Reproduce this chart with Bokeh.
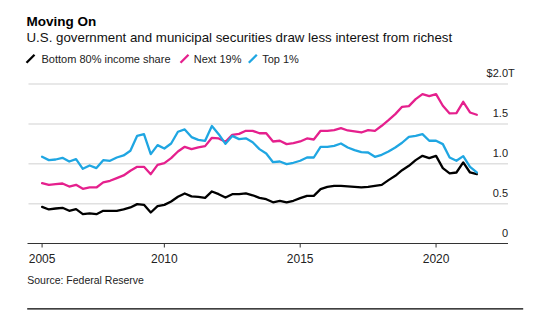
from bokeh.plotting import figure
from bokeh.models import Label, Arrow, Range1d
from bokeh.core.properties import value
from bokeh.embed import file_html
from bokeh.resources import INLINE

# ---------------- data ----------------
quarters = [f"{y}Q{q}" for y in range(2005, 2022) for q in range(1, 5)][2:-1]  # 2005Q3 .. 2021Q3

bottom_80 = [0.460, 0.427, 0.439, 0.448, 0.410, 0.431, 0.368, 0.377, 0.368, 0.410,
             0.410, 0.410, 0.427, 0.452, 0.494, 0.485, 0.389, 0.469, 0.485, 0.527,
             0.586, 0.628, 0.592, 0.586, 0.573, 0.653, 0.619, 0.577, 0.619, 0.619,
             0.628, 0.605, 0.573, 0.556, 0.517, 0.536, 0.515, 0.536, 0.569, 0.598,
             0.598, 0.682, 0.711, 0.724, 0.724, 0.718, 0.711, 0.703, 0.711, 0.724,
             0.736, 0.795, 0.849, 0.920, 0.975, 1.046, 1.100, 1.071, 1.100, 0.946,
             0.879, 0.891, 1.017, 0.891, 0.870]

next_19 = [0.757, 0.736, 0.745, 0.753, 0.715, 0.736, 0.686, 0.703, 0.703, 0.766,
           0.787, 0.820, 0.854, 0.912, 0.962, 0.962, 0.870, 0.987, 1.008, 1.071,
           1.155, 1.213, 1.184, 1.205, 1.222, 1.326, 1.318, 1.276, 1.364, 1.376,
           1.414, 1.414, 1.383, 1.383, 1.280, 1.289, 1.247, 1.259, 1.280, 1.318,
           1.305, 1.414, 1.414, 1.423, 1.447, 1.418, 1.406, 1.393, 1.423, 1.414,
           1.477, 1.548, 1.623, 1.715, 1.724, 1.812, 1.874, 1.849, 1.874, 1.728,
           1.632, 1.636, 1.778, 1.644, 1.615]

top_1 = [1.088, 1.046, 1.054, 1.075, 1.029, 1.059, 0.937, 0.979, 0.946, 1.046,
         1.038, 1.079, 1.105, 1.163, 1.351, 1.372, 1.121, 1.234, 1.192, 1.255,
         1.402, 1.431, 1.335, 1.300, 1.289, 1.475, 1.372, 1.250, 1.350, 1.310,
         1.320, 1.270, 1.184, 1.130, 1.020, 1.029, 0.996, 1.013, 1.038, 1.079,
         1.079, 1.213, 1.213, 1.226, 1.255, 1.205, 1.172, 1.146, 1.142, 1.088,
         1.113, 1.155, 1.205, 1.264, 1.339, 1.351, 1.372, 1.289, 1.289, 1.247,
         1.079, 1.038, 1.096, 0.962, 0.891]

series_names = ["Bottom 80% income share", "Next 19%", "Top 1%"]
series_colors = ["#000000", "#e5208d", "#1fa6e2"]

x_tick_values = [2005.5, 2010, 2015, 2020]
x_tick_labels = ["2005", "2010", "2015", "2020"]
grid_values = [0.5, 1.0, 1.5, 2.0]
y_tick_values = [0, 0.5, 1.0, 1.5, 2.0]
y_tick_labels = ["0", "0.5", "1.0", "1.5", "$2.0"]
y_unit_suffix = "T"

title = "Moving On"
subtitle = "U.S. government and municipal securities draw less interest from richest"
source_note = "Source: Federal Reserve"

# ---------------- layout (pixels) ----------------
W, H = 551, 324
FONT = "Liberation Sans"
PLOT_LEFT = 28.0      # canvas x of the start of the time axis area
PLOT_RIGHT = 507.5    # canvas x where grid lines end
AXIS_Y = 243.0        # canvas y of the zero line
PX_PER_YEAR = 27.17
PX_PER_UNIT = 79.7
X0 = 2005.0           # year at PLOT_LEFT


def q_to_year(qs):
    return int(qs[:4]) + (int(qs[5]) - 1) / 4.0


def year_at(px):
    return X0 + (px - PLOT_LEFT) / PX_PER_YEAR


xs = [q_to_year(q) for q in quarters]

# the frame covers the whole canvas; the axis is drawn from the scales below
p = figure(width=W, height=H, output_backend="svg", toolbar_location=None,
           x_axis_location=None, y_axis_location=None,
           x_range=Range1d(year_at(0), year_at(W)),
           y_range=Range1d(-(H - AXIS_Y) / PX_PER_UNIT, AXIS_Y / PX_PER_UNIT),
           min_border=0)
p.outline_line_color = None
p.background_fill_color = "white"
p.border_fill_color = "white"
p.grid.visible = False

gx0, gx1 = year_at(PLOT_LEFT), year_at(PLOT_RIGHT)

# horizontal grid lines
p.segment(x0=[gx0] * len(grid_values), x1=[gx1] * len(grid_values),
          y0=grid_values, y1=grid_values, line_color="#e0e0e0", line_width=1.5)

# zero/axis line and tick marks
p.segment(x0=[year_at(PLOT_LEFT - 1)], x1=[gx1], y0=[0], y1=[0],
          line_color="#333333", line_width=1)
p.segment(x0=x_tick_values, x1=x_tick_values, y0=[0] * len(x_tick_values),
          y1=[-4 / PX_PER_UNIT] * len(x_tick_values), line_color="#333333", line_width=1)

# data lines
for vals, col in zip([bottom_80, next_19, top_1], series_colors):
    p.line(xs, vals, line_color=col, line_width=2.3, line_join="round", line_cap="round")

# x tick labels
p.text(x=x_tick_values, y=[0] * len(x_tick_values), text=x_tick_labels,
       text_font=value(FONT), text_font_size=value("12px"), text_color="#222222",
       text_align="center", text_baseline="middle", y_offset=15)

# y tick labels (right-aligned, sitting above their grid lines)
p.text(x=[gx1] * len(y_tick_values), y=y_tick_values, text=y_tick_labels,
       text_font=value(FONT), text_font_size=value("11px"), text_color="#222222",
       text_align="right", text_baseline="middle", y_offset=-11)
p.text(x=[gx1], y=[y_tick_values[-1]], text=[y_unit_suffix],
       text_font=value(FONT), text_font_size=value("11px"), text_color="#222222",
       text_align="left", text_baseline="middle", y_offset=-11)


def slabel(x, y_top, text, size, style="normal", color="#111111"):
    p.add_layout(Label(x=x, y=H - y_top, x_units="screen", y_units="screen", text=text,
                       text_font=FONT, text_font_size=size, text_font_style=style,
                       text_color=color, text_baseline="middle", text_align="left"))


slabel(26, 20.7, title, "13.5px", "bold", "#000000")
slabel(26, 37.3, subtitle, "13.3px")

legend_text_x = [41, 193.3, 261.7]
legend_mark_x = [26, 180, 248.3]
for name, col, tx, mx in zip(series_names, series_colors, legend_text_x, legend_mark_x):
    p.add_layout(Arrow(end=None, x_start=mx, y_start=H - 62.3, x_end=mx + 8, y_end=H - 54.3,
                       start_units="screen", end_units="screen", line_color=col, line_width=2.3))
    slabel(tx, 58.3, name, "11px", color="#222222")

slabel(26.7, 279.3, source_note, "10.5px", color="#222222")
p.add_layout(Arrow(end=None, x_start=26.7, y_start=H - 308.3, x_end=522.7, y_end=H - 308.3,
                   start_units="screen", end_units="screen", line_color="#000000", line_width=1.2))

open("out.html", "w").write(file_html(p, INLINE))
